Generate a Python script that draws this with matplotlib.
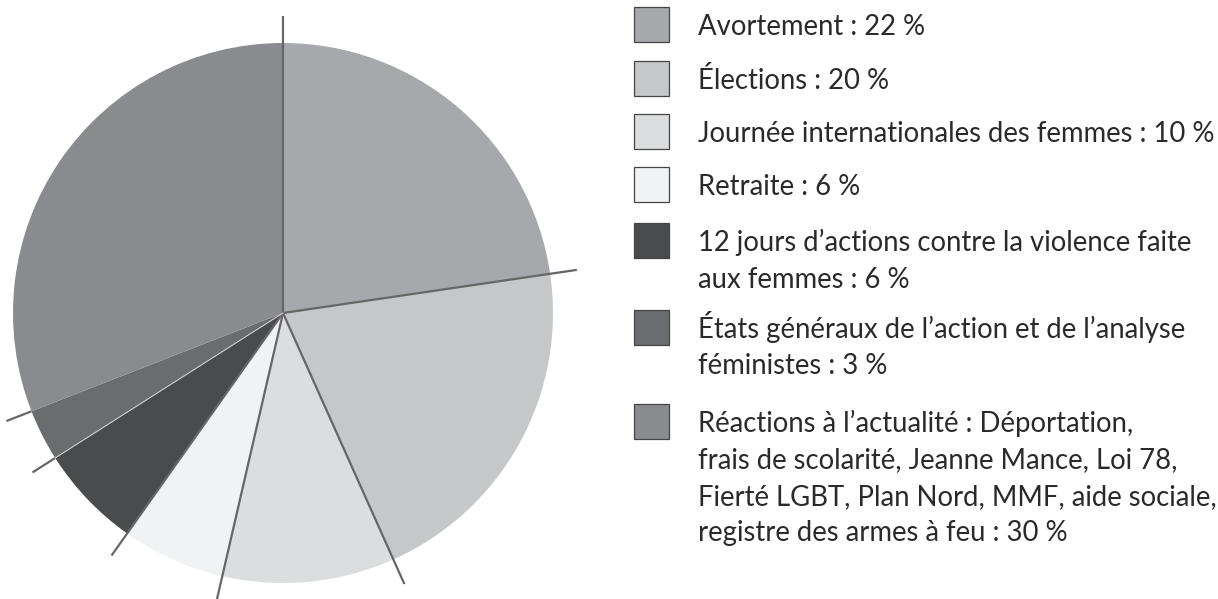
import numpy as np
import matplotlib
matplotlib.use("Agg")
import matplotlib.pyplot as plt
from matplotlib.patches import Rectangle

labels = [
    "Avortement : 22 %",
    "Élections : 20 %",
    "Journée internationales des femmes : 10 %",
    "Retraite : 6 %",
    "12 jours d’actions contre la violence faite\naux femmes : 6 %",
    "États généraux de l’action et de l’analyse\nféministes : 3 %",
    "Réactions à l’actualité : Déportation,\nfrais de scolarité, Jeanne Mance, Loi 78,\nFierté LGBT, Plan Nord, MMF, aide sociale,\nregistre des armes à feu : 30 %",
]
values = [22, 20, 10, 6, 6, 3, 30]
colors = ["#a7a8ab", "#c6c7c9", "#dcdddf", "#f1f2f4", "#4a4b4d", "#6b6c6f", "#8a8b8f"]

W, H = 1218, 599
fig = plt.figure(figsize=(W / 100, H / 100), dpi=100)
ax = fig.add_axes([0, 0, 1, 1])

cx, cy, R = 283, H - 313, 270
wedges, _ = ax.pie(values, colors=colors, startangle=90, counterclock=False,
                   center=(cx, cy), radius=R, wedgeprops=dict(linewidth=0))
ax.set_xlim(0, W)
ax.set_ylim(0, H)
ax.set_aspect("equal")
ax.axis("off")

# boundary lines
ext = 1.1
line_col = "#666666"
for i, w in enumerate(wedges):
    ang = np.deg2rad(w.theta2)
    x1, y1 = cx + R * ext * np.cos(ang), cy + R * ext * np.sin(ang)
    if i in (5, 6):
        # outer portion only
        x0, y0 = cx + R * np.cos(ang), cy + R * np.sin(ang)
        ax.plot([x0, x1], [y0, y1], color=line_col, lw=1.6, solid_capstyle="butt")
        if i == 5:
            ax.plot([cx, x0], [cy, y0], color="#d8d8d8", lw=0.7)
    else:
        ax.plot([cx, x1], [cy, y1], color=line_col, lw=1.6, solid_capstyle="butt")

# legend
baselines = [35, 89, 142, 195, 251, 338, 432]
spacing = 36.5
tx = 698
sq_x, sq = 634, 35
for lab, col, b in zip(labels, colors, baselines):
    ax.add_patch(Rectangle((sq_x, H - (b + 7)), sq, sq, facecolor=col,
                           edgecolor="#444444", lw=0.9))
    for j, line in enumerate(lab.split("\n")):
        ax.text(tx, H - (b + j * spacing), line, fontsize=19.8, family="Lato",
                color="#2a2a2a", va="baseline", ha="left")

fig.savefig("out.png", dpi=100)
